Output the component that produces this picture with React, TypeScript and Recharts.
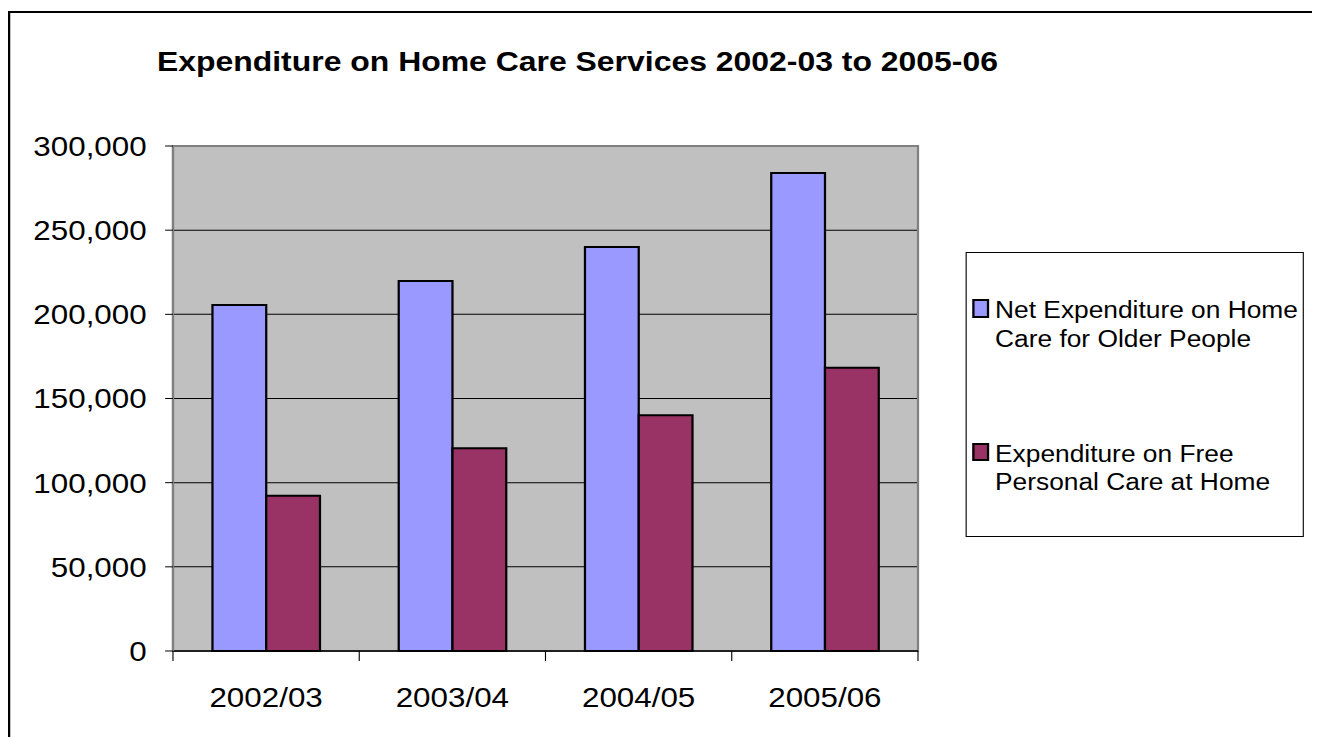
import React from 'react'
import {
  BarChart, Bar, XAxis, YAxis, CartesianGrid, ReferenceArea,
} from 'recharts'

const FONT = '"Liberation Sans", Arial, sans-serif'

const years = ['2002/03', '2003/04', '2004/05', '2005/06']
const netHomeCare = [205500, 219800, 240000, 284000]
const freePersonalCare = [92200, 120400, 140100, 168200]
const yTicks = [0, 50000, 100000, 150000, 200000, 250000, 300000]

const SERIES = [
  { key: 'net', name: 'Net Expenditure on Home Care for Older People', color: '#9999FF' },
  { key: 'free', name: 'Expenditure on Free Personal Care at Home', color: '#993366' },
]

const data = years.map((year, i) => ({
  year,
  net: netHomeCare[i],
  free: freePersonalCare[i],
}))

// the reference picture is stretched sideways, so draw narrower and scale x
const STRETCH = 1.12
const W = 1170
const H = 729
const PLOT_LEFT = 147.3
const PLOT_RIGHT = 812.5
const PLOT_TOP = 138
const PLOT_BOTTOM = 643
const Y_AXIS_W = 100
const X_AXIS_H = 60
const BAND = (PLOT_RIGHT - PLOT_LEFT) / years.length

const fmt = (v: number) => v.toLocaleString('en-US')

function XTick({ x, y, payload, index }: any) {
  const half = BAND / 2
  return (
    <g>
      <line x1={x - half} x2={x - half} y1={y} y2={y + 10} stroke="#000" strokeWidth={1} />
      {index === years.length - 1 && (
        <line x1={x + half} x2={x + half} y1={y} y2={y + 10} stroke="#000" strokeWidth={1} />
      )}
      <text x={x} y={y + 56} textAnchor="middle" fontSize={28} fill="#000" fontFamily={FONT}>
        {payload.value}
      </text>
    </g>
  )
}

function LegendBox() {
  const tops = [43.6, 187.2]
  return (
    <div style={{
      position: 'absolute', left: 854.5, top: 243.7, width: 302, height: 285,
      boxSizing: 'border-box', border: '1px solid #000', background: '#fff',
    }}>
      {SERIES.map((s, i) => (
        <div key={s.key}>
          <div style={{
            position: 'absolute', left: 5, top: tops[i] + 2.7, width: 15.5, height: 18.7,
            boxSizing: 'border-box', border: '2px solid #000', background: s.color,
          }} />
          <div style={{
            position: 'absolute', left: 25.8, top: tops[i], width: 300,
            fontSize: 23.5, lineHeight: '28.5px', color: '#000', fontFamily: FONT,
          }}>
            {s.name}
          </div>
        </div>
      ))}
    </div>
  )
}

export default function App() {
  return (
    <>
      <style>{'body{overflow:hidden;background:#fff}'}</style>
      <div style={{
        position: 'relative', width: W, height: H, overflow: 'hidden',
        transform: `scaleX(${STRETCH})`, transformOrigin: '0 0', fontFamily: FONT,
      }}>
        <div style={{
          position: 'absolute', left: 0, top: 3, width: W, height: 800,
          boxSizing: 'border-box', border: '2px solid #000',
        }} />
        <div style={{
          position: 'absolute', left: 133, top: 39, fontSize: 28.5, lineHeight: '28.5px',
          fontWeight: 'bold', color: '#000', whiteSpace: 'nowrap',
        }}>
          Expenditure on Home Care Services 2002-03 to 2005-06
        </div>
        <div style={{ position: 'absolute', left: 0, top: 0 }}>
          <BarChart
            width={W}
            height={H}
            data={data}
            margin={{
              top: PLOT_TOP,
              left: PLOT_LEFT - Y_AXIS_W,
              right: W - PLOT_RIGHT,
              bottom: H - PLOT_BOTTOM - X_AXIS_H,
            }}
            barCategoryGap="21.2%"
            barGap={0}
          >
            <CartesianGrid vertical={false} stroke="#000" strokeWidth={1} fill="#C0C0C0" />
            <ReferenceArea y1={0} y2={300000} fill="none" stroke="#808080" strokeWidth={2} ifOverflow="visible" />
            <XAxis
              dataKey="year"
              height={X_AXIS_H}
              tickLine={false}
              tickSize={0}
              tickMargin={0}
              axisLine={{ stroke: '#000', strokeWidth: 1.5 }}
              tick={(props: any) => <XTick {...props} />}
              interval={0}
            />
            <YAxis
              width={Y_AXIS_W}
              domain={[0, 300000]}
              ticks={yTicks}
              interval={0}
              tickFormatter={fmt}
              tickSize={7}
              tickMargin={16.5}
              tickLine={{ stroke: '#000' }}
              axisLine={{ stroke: '#808080', strokeWidth: 2 }}
              tick={{ fontSize: 28, fill: '#000', fontFamily: FONT }}
            />
            {SERIES.map(s => (
              <Bar
                key={s.key}
                dataKey={s.key}
                name={s.name}
                fill={s.color}
                stroke="#000"
                strokeWidth={2}
                isAnimationActive={false}
              />
            ))}
          </BarChart>
        </div>
        <LegendBox />
      </div>
    </>
  )
}
